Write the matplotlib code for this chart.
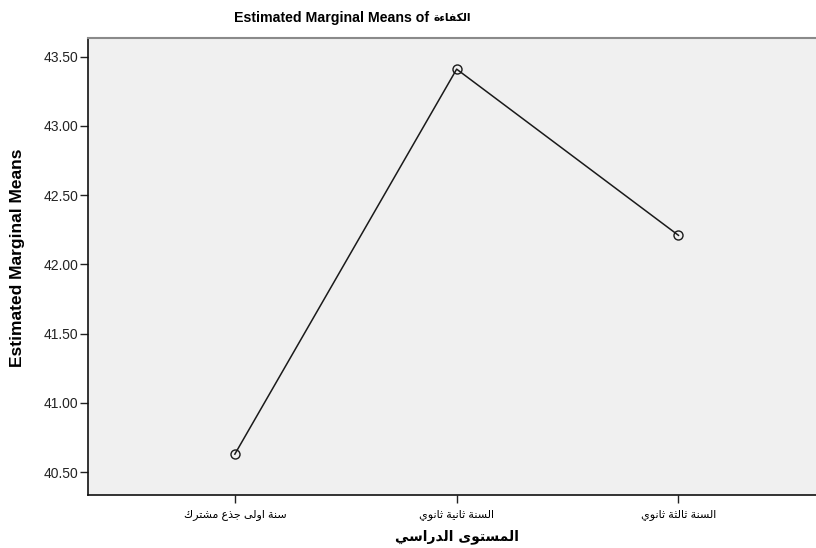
import matplotlib
matplotlib.use("Agg")
import matplotlib.pyplot as plt
from matplotlib import font_manager

# ---- data ----
categories = ["سنة اولى جذع مشترك", "السنة ثانية ثانوي", "السنة ثالثة ثانوي"]
means = [40.63, 43.41, 42.21]
y_ticks = [40.50, 41.00, 41.50, 42.00, 42.50, 43.00, 43.50]
title_prefix = "Estimated Marginal Means of"
dependent_name = "الكفاءة"
x_title = "المستوى الدراسي"
y_title = "Estimated Marginal Means"

# ---- minimal Arabic shaping (presentation forms + visual order) ----
# letter: (isolated, final, initial, medial); None => right-joining only
FORMS = {
    "ء": ("\uFE80", None, None, None),
    "ا": ("\uFE8D", "\uFE8E", None, None),
    "ة": ("\uFE93", "\uFE94", None, None),
    "ت": ("\uFE95", "\uFE96", "\uFE97", "\uFE98"),
    "ث": ("\uFE99", "\uFE9A", "\uFE9B", "\uFE9C"),
    "ج": ("\uFE9D", "\uFE9E", "\uFE9F", "\uFEA0"),
    "د": ("\uFEA9", "\uFEAA", None, None),
    "ذ": ("\uFEAB", "\uFEAC", None, None),
    "ر": ("\uFEAD", "\uFEAE", None, None),
    "س": ("\uFEB1", "\uFEB2", "\uFEB3", "\uFEB4"),
    "ش": ("\uFEB5", "\uFEB6", "\uFEB7", "\uFEB8"),
    "ع": ("\uFEC9", "\uFECA", "\uFECB", "\uFECC"),
    "ف": ("\uFED1", "\uFED2", "\uFED3", "\uFED4"),
    "ك": ("\uFED9", "\uFEDA", "\uFEDB", "\uFEDC"),
    "ل": ("\uFEDD", "\uFEDE", "\uFEDF", "\uFEE0"),
    "م": ("\uFEE1", "\uFEE2", "\uFEE3", "\uFEE4"),
    "ن": ("\uFEE5", "\uFEE6", "\uFEE7", "\uFEE8"),
    "و": ("\uFEED", "\uFEEE", None, None),
    "ى": ("\uFEEF", "\uFEF0", None, None),
    "ي": ("\uFEF1", "\uFEF2", "\uFEF3", "\uFEF4"),
}


def joins_left(ch):
    f = FORMS.get(ch)
    return f is not None and f[2] is not None


def joins_right(ch):
    f = FORMS.get(ch)
    return f is not None and f[1] is not None


def shape(text):
    out = []
    n = len(text)
    for i, ch in enumerate(text):
        if ch not in FORMS:
            out.append(ch)
            continue
        prev_c = i > 0 and joins_left(text[i - 1]) and joins_right(ch)
        next_c = i < n - 1 and joins_left(ch) and joins_right(text[i + 1])
        iso, fin, ini, med = FORMS[ch]
        if prev_c and next_c:
            out.append(med)
        elif prev_c:
            out.append(fin)
        elif next_c:
            out.append(ini)
        else:
            out.append(iso)
    return "".join(reversed(out))


installed = {f.name for f in font_manager.fontManager.ttflist}
narrow = "Liberation Sans Narrow" if "Liberation Sans Narrow" in installed else "Liberation Sans"
plt.rcParams["font.family"] = ["Liberation Sans", "DejaVu Sans"]

fig = plt.figure(figsize=(8.16, 5.48), dpi=100)
ax = fig.add_axes([88 / 816, 1 - 495 / 548, (816 - 88) / 816, (495 - 38) / 548])
ax.set_facecolor("#F0F0F0")

x = list(range(len(categories)))
ax.plot(x, means, color="#1a1a1a", lw=1.1, marker="o", ms=6.5,
        mfc="none", mec="#1a1a1a", mew=1.0, zorder=3)

ax.set_xlim(-0.662, 2.62)
ax.set_ylim(40.335, 43.635)
ax.set_yticks(y_ticks)
ax.set_yticklabels([f"{v:.2f}" for v in y_ticks], fontsize=10, color="#222222")
ax.set_xticks(x)
ax.set_xticklabels([shape(c) for c in categories], fontsize=8,
                   family=["Liberation Sans", "DejaVu Sans"])
ax.tick_params(axis="both", direction="out", length=6, width=1.0, color="#222222")
ax.tick_params(axis="x", pad=4)
ax.tick_params(axis="y", pad=1)

ax.spines["right"].set_visible(False)
ax.spines["top"].set_color("#8a8a8a")
ax.spines["top"].set_linewidth(1.5)
ax.spines["left"].set_color("#111111")
ax.spines["bottom"].set_color("#111111")
ax.spines["left"].set_linewidth(1.2)
ax.spines["bottom"].set_linewidth(1.2)

# title: Latin part and the Arabic variable name set side by side
fig.text(429 / 816, 1 - 18 / 548, title_prefix, ha="right", va="center",
         fontsize=10.2, fontweight="bold")
fig.text(433 / 816, 1 - 18 / 548, shape(dependent_name), ha="left", va="center",
         fontsize=7.8, fontweight="bold", family=["DejaVu Sans"])
fig.text(457 / 816, 1 - 537 / 548, shape(x_title), ha="center", va="center",
         fontsize=10, fontweight="bold", family=["DejaVu Sans"])
fig.text(17.5 / 816, 1 - 258 / 548, y_title, ha="center", va="center",
         rotation=90, fontsize=12.5, fontweight="bold", family=[narrow, "DejaVu Sans"])

fig.savefig("out.png", dpi=100, facecolor="white")
